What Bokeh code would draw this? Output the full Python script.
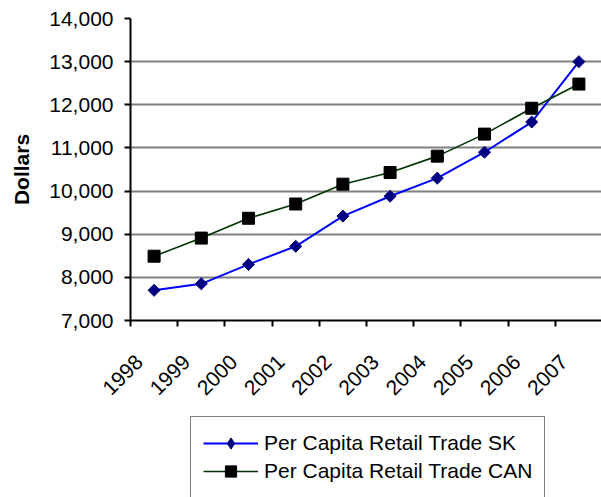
import math
from bokeh.plotting import figure
from bokeh.layouts import column
from bokeh.models import (Legend, LegendItem, FixedTicker, NumeralTickFormatter,
                          Range1d, LinearAxis)
from bokeh.embed import file_html
from bokeh.resources import INLINE

years = ["1998", "1999", "2000", "2001", "2002", "2003", "2004", "2005", "2006", "2007"]
sk_values = [7700, 7850, 8300, 8720, 9420, 9880, 10300, 10900, 11600, 13000]
can_values = [8490, 8910, 9370, 9700, 10160, 10430, 10810, 11320, 11920, 12480]
y_ticks = [7000, 8000, 9000, 10000, 11000, 12000, 13000, 14000]
series_names = ["Per Capita Retail Trade SK", "Per Capita Retail Trade CAN"]

FONT = "Liberation Sans"
n = len(years)
xs = [i + 0.5 for i in range(n)]
label_pos = [i + 0.1875 for i in range(n)]

W = 601
H_MAIN = 410
H_LEG = 87

SK_LINE = dict(line_color="#0000FF", line_width=2)
SK_PTS = dict(fill_color="#000080", line_color="#000080")
CAN_LINE = dict(line_color="#003300", line_width=1.6)
CAN_PTS = dict(marker="square", size=12, fill_color="black", line_color="black")

p = figure(width=W, height=H_MAIN, output_backend="svg", toolbar_location=None,
           x_axis_type=None,
           x_range=Range1d(0, (W - 130) / 47.2), y_range=Range1d(7000, 14000),
           min_border_left=130, min_border_top=18, min_border_right=0,
           min_border_bottom=90)
p.outline_line_color = None

# x axis: labels near category centres, ticks at category boundaries
xaxis = LinearAxis(ticker=FixedTicker(ticks=label_pos, minor_ticks=list(range(n + 1))))
xaxis.major_label_overrides = {x: y for x, y in zip(label_pos, years)}
xaxis.major_label_orientation = math.pi / 4
xaxis.major_tick_out = 0
xaxis.major_tick_in = 0
xaxis.minor_tick_out = 6
xaxis.minor_tick_in = 0
xaxis.minor_tick_line_color = "black"
xaxis.minor_tick_line_width = 2
xaxis.axis_line_color = "black"
xaxis.axis_line_width = 2
xaxis.major_label_text_font = FONT
xaxis.major_label_text_font_size = "21px"
xaxis.major_label_text_color = "black"
xaxis.major_label_standoff = 32
p.add_layout(xaxis, "below")

yaxis = p.yaxis[0]
yaxis.ticker = FixedTicker(ticks=y_ticks)
yaxis.formatter = NumeralTickFormatter(format="0,0")
yaxis.major_tick_out = 6
yaxis.major_tick_in = 0
yaxis.minor_tick_line_color = None
yaxis.major_tick_line_color = "black"
yaxis.major_tick_line_width = 2
yaxis.axis_line_color = "black"
yaxis.axis_line_width = 2
yaxis.major_label_text_font = FONT
yaxis.major_label_text_font_size = "21px"
yaxis.major_label_text_color = "black"
yaxis.major_label_standoff = 11
yaxis.axis_label = "Dollars"
yaxis.axis_label_text_font = FONT
yaxis.axis_label_text_font_size = "21px"
yaxis.axis_label_text_font_style = "bold"
yaxis.axis_label_text_color = "black"
yaxis.axis_label_standoff = 13

p.ygrid.ticker = FixedTicker(ticks=y_ticks)
p.ygrid.grid_line_color = "#808080"
p.ygrid.grid_line_width = 2
p.xgrid.visible = False

p.line(xs, sk_values, **SK_LINE)
p.scatter(xs, sk_values, marker="square", angle=math.pi / 4, size=8.5, **SK_PTS)
p.line(xs, can_values, **CAN_LINE)
p.scatter(xs, can_values, **CAN_PTS)

# legend panel below the chart (its own small figure; data lies outside its view)
lf = figure(width=W, height=H_LEG, output_backend="svg", toolbar_location=None,
            x_axis_type=None, y_axis_type=None,
            x_range=Range1d(1000, 1001), y_range=Range1d(1000, 1001),
            min_border=0)
lf.outline_line_color = None
lf.xgrid.visible = False
lf.ygrid.visible = False
l1 = lf.line(xs, sk_values, **SK_LINE)
m1 = lf.scatter(xs, sk_values, marker="diamond", size=13, **SK_PTS)
l2 = lf.line(xs, can_values, **CAN_LINE)
m2 = lf.scatter(xs, can_values, **CAN_PTS)

legend = Legend(items=[LegendItem(label=series_names[0], renderers=[l1, m1]),
                       LegendItem(label=series_names[1], renderers=[l2, m2])],
                location=(60, -1))
legend.label_text_font = FONT
legend.label_text_font_size = "21px"
legend.label_text_color = "black"
legend.glyph_width = 55
legend.glyph_height = 28
legend.label_height = 28
legend.label_standoff = 6
legend.spacing = 0
legend.padding = 12
legend.margin = 0
legend.border_line_color = "black"
legend.border_line_width = 1
legend.background_fill_alpha = 1
lf.add_layout(legend, "center")

open("out.html", "w").write(file_html(column(p, lf), INLINE))
